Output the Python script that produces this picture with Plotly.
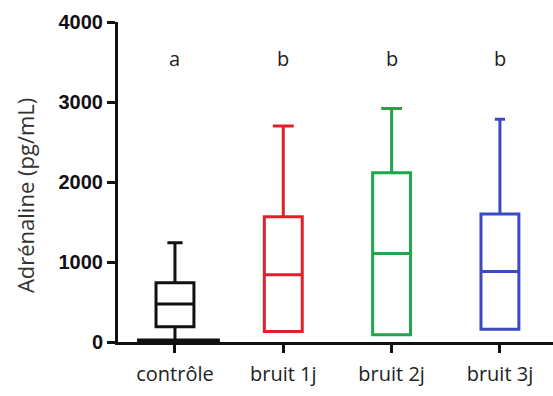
import plotly.graph_objects as go

# ---- data ----
categories = ["contrôle", "bruit 1j", "bruit 2j", "bruit 3j"]
positions = [0, 1, 2, 3]
q1 = [190, 130, 90, 160]
median = [475, 840, 1105, 880]
q3 = [740, 1565, 2115, 1600]
lower_fence = [0, 130, 90, 160]
upper_fence = [1240, 2700, 2920, 2785]
letters = ["a", "b", "b", "b"]
letter_y = [3540, 3540, 3540, 3540]
zero_points_x = [-0.35, 0.415]
zero_points_y = [0, 0]
y_ticks = [0, 1000, 2000, 3000, 4000]

colors = ["#111111", "#e3202a", "#1fa64a", "#3b4abf"]
whisker_widths = [0.4, 0.55, 0.55, 0.27]

fig = go.Figure()

for i in range(len(categories)):
    fig.add_trace(go.Box(
        x=[positions[i]],
        q1=[q1[i]], median=[median[i]], q3=[q3[i]],
        lowerfence=[lower_fence[i]], upperfence=[upper_fence[i]],
        width=0.35,
        whiskerwidth=whisker_widths[i],
        line=dict(color=colors[i], width=3),
        fillcolor="rgba(255,255,255,0)",
        boxpoints=False,
        showlegend=False,
        hoverinfo="skip",
    ))

fig.add_trace(go.Scatter(
    x=zero_points_x, y=zero_points_y, mode="lines",
    line=dict(color="#111111", width=7),
    showlegend=False, hoverinfo="skip",
))

for i in range(len(categories)):
    fig.add_annotation(
        x=positions[i], y=letter_y[i], text=letters[i], showarrow=False,
        font=dict(family="Open Sans", size=20, color="#222222"),
    )

# y-axis title as annotation for precise placement
fig.add_annotation(
    x=-0.2138, y=0.459, xref="paper", yref="paper",
    text="Adrénaline (pg/mL)", textangle=-90, showarrow=False,
    xanchor="center", yanchor="middle",
    font=dict(family="Open Sans", size=22, color="#333333"),
)

fig.update_layout(
    width=553, height=396,
    margin=dict(l=118, r=0, t=22, b=54),
    paper_bgcolor="white", plot_bgcolor="white",
    showlegend=False,
)

fig.update_xaxes(
    range=[-0.526, 3.49],
    tickmode="array", tickvals=positions, ticktext=categories,
    showline=True, linecolor="#111111", linewidth=3,
    ticks="outside", ticklen=8, tickwidth=3, tickcolor="#111111",
    tickfont=dict(family="Open Sans", size=20, color="#222222"),
    ticklabelstandoff=4,
    showgrid=False, zeroline=False,
)

fig.update_yaxes(
    range=[0, 4000],
    tickmode="array", tickvals=y_ticks,
    ticktext=["<b>%d</b>" % v for v in y_ticks],
    showline=True, linecolor="#111111", linewidth=3,
    ticks="outside", ticklen=8, tickwidth=3, tickcolor="#111111",
    tickfont=dict(family="Liberation Sans", size=20, color="#111111"),
    showgrid=False, zeroline=False,
)

fig.write_html("out.html")
